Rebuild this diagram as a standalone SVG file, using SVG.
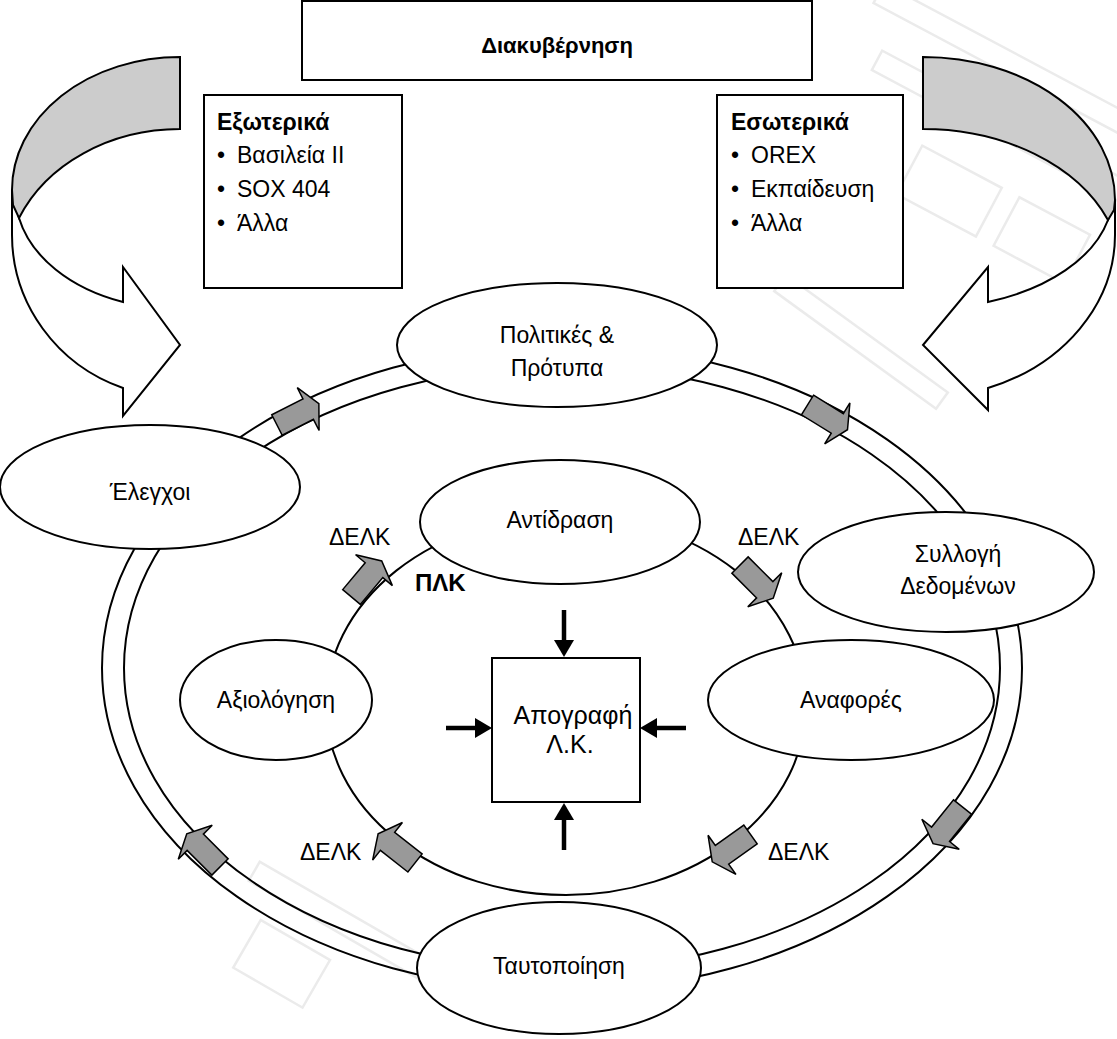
<svg xmlns="http://www.w3.org/2000/svg" width="1117" height="1039" viewBox="0 0 1117 1039">
  <style>
    .ln { fill: none; stroke: #000; stroke-width: 2; }
    .nd { fill: #fff; stroke: #000; stroke-width: 2; }
    .t { font-family: "Liberation Sans", Arial, sans-serif; font-size: 23px; fill: #000; }
    .b { font-weight: bold; }
    .mid { text-anchor: middle; }
    .blk { fill: #999; stroke: #000; stroke-width: 1.5; stroke-linejoin: miter; }
    .cv { fill: #fff; stroke: #000; stroke-width: 2; stroke-linejoin: miter; }
    .cvg { fill: #ccc; stroke: #000; stroke-width: 2; }
    .sh { stroke: #000; stroke-width: 4.5; }
    .wm { fill: none; stroke: #ebebeb; stroke-width: 2.5; }
  </style>
  <defs>
    <!-- block arrow pointing along +x, origin at middle of its tail -->
    <path id="blockArrow" d="M0,-11.5 H35 V-24 L47,0 L35,24 V11.5 H0 Z"/>
    <marker id="head" markerUnits="userSpaceOnUse" markerWidth="18" markerHeight="20" refX="0" refY="10" orient="auto">
      <path d="M0,0 L17,10 L0,20 Z" fill="#000"/>
    </marker>
  </defs>

  <rect width="1117" height="1039" fill="#fff"/>

  <!-- faint background logo -->
  <g id="watermark">
    <g transform="rotate(28 950 200)">
      <rect class="wm" x="790" y="40" width="380" height="22"/>
      <rect class="wm" x="820" y="100" width="320" height="22"/>
      <rect class="wm" x="900" y="165" width="90" height="55"/>
      <rect class="wm" x="1010" y="165" width="80" height="55"/>
    </g>
    <g transform="rotate(36 850 340)">
      <rect class="wm" x="760" y="325" width="200" height="20"/>
    </g>
    <g transform="rotate(30 330 960)">
      <rect class="wm" x="220" y="910" width="230" height="22"/>
      <rect class="wm" x="250" y="960" width="80" height="55"/>
    </g>
  </g>

  <!-- curved arrow, left -->
  <g id="curved-left">
    <path class="cv" d="M12,190 L12,235 A168,163 0 0 0 123,388 L123,416 L180,345 L123,267 L123,302 A163,115 0 0 1 19,218 Z"/>
    <path class="cvg" d="M180,57 A168,133 0 0 0 12,190 L13,205 L19,218 A175,146 0 0 1 180,129 Z"/>
  </g>

  <!-- curved arrow, right -->
  <g id="curved-right">
    <path class="cv" d="M1115,200 L1115,235 A192,163 0 0 1 988,388 L988,410 L923,345 L988,267 L988,302 A187,114 0 0 0 1108,220 Z"/>
    <path class="cvg" d="M923,57 A192,143 0 0 1 1115,200 L1114,210 L1108,220 A200,146 0 0 0 923,129 Z"/>
  </g>

  <!-- connectors: outer ring, inner cycle, block arrows, small arrows -->
  <g id="connectors">
    <ellipse class="ln" cx="562" cy="668" rx="460" ry="323"/>
    <ellipse class="ln" cx="562" cy="668" rx="438" ry="302"/>
    <ellipse class="ln" cx="566" cy="705" rx="240" ry="190"/>

    <use href="#blockArrow" class="blk" transform="translate(277,425) rotate(-27)"/>
    <use href="#blockArrow" class="blk" transform="translate(807.5,405) rotate(31.7)"/>
    <use href="#blockArrow" class="blk" transform="translate(962.5,807) rotate(128.8)"/>
    <use href="#blockArrow" class="blk" transform="translate(220,867) rotate(-135)"/>

    <use href="#blockArrow" class="blk" transform="translate(351.5,597) rotate(-50)"/>
    <use href="#blockArrow" class="blk" transform="translate(740,565) rotate(45)"/>
    <use href="#blockArrow" class="blk" transform="translate(750.5,834.5) rotate(144.5)"/>
    <use href="#blockArrow" class="blk" transform="translate(415,863) rotate(-141.7)"/>

    <line class="sh" x1="564" y1="610" x2="564" y2="640" marker-end="url(#head)"/>
    <line class="sh" x1="564" y1="850" x2="564" y2="820" marker-end="url(#head)"/>
    <line class="sh" x1="446" y1="728" x2="475" y2="728" marker-end="url(#head)"/>
    <line class="sh" x1="686" y1="728" x2="657" y2="728" marker-end="url(#head)"/>
  </g>

  <g id="governance">
    <rect class="nd" x="302" y="1" width="510" height="79"/>
    <text class="t b mid" x="557" y="53" style="font-size:22px">Διακυβέρνηση</text>
  </g>

  <g id="external">
    <rect class="nd" x="204" y="95" width="198" height="193"/>
    <text class="t b" x="217" y="130">Εξωτερικά</text>
    <text class="t" x="217" y="163">•</text><text class="t" x="237" y="163">Βασιλεία ΙΙ</text>
    <text class="t" x="217" y="197">•</text><text class="t" x="237" y="197">SOX 404</text>
    <text class="t" x="217" y="231">•</text><text class="t" x="237" y="231">Άλλα</text>
  </g>

  <g id="internal">
    <rect class="nd" x="717" y="95" width="186" height="193"/>
    <text class="t b" x="731" y="130">Εσωτερικά</text>
    <text class="t" x="731" y="163">•</text><text class="t" x="751" y="163">OREX</text>
    <text class="t" x="731" y="197">•</text><text class="t" x="751" y="197">Εκπαίδευση</text>
    <text class="t" x="731" y="231">•</text><text class="t" x="751" y="231">Άλλα</text>
  </g>

  <g id="policies">
    <ellipse class="nd" cx="557" cy="345" rx="160" ry="62"/>
    <text class="t mid" x="557" y="343">Πολιτικές &amp;</text>
    <text class="t mid" x="557" y="376">Πρότυπα</text>
  </g>

  <g id="controls">
    <ellipse class="nd" cx="150" cy="487" rx="150" ry="62"/>
    <text class="t mid" x="150" y="500">Έλεγχοι</text>
  </g>

  <g id="data-collection">
    <ellipse class="nd" cx="946" cy="572" rx="148" ry="60"/>
    <text class="t mid" x="958" y="562">Συλλογή</text>
    <text class="t mid" x="958" y="594">Δεδομένων</text>
  </g>

  <g id="response">
    <ellipse class="nd" cx="560" cy="522" rx="140" ry="62"/>
    <text class="t mid" x="560" y="528">Αντίδραση</text>
  </g>

  <g id="assessment">
    <ellipse class="nd" cx="276" cy="700" rx="96" ry="60"/>
    <text class="t mid" x="276" y="708">Αξιολόγηση</text>
  </g>

  <g id="reports">
    <ellipse class="nd" cx="851" cy="700" rx="143" ry="60"/>
    <text class="t mid" x="851" y="708">Αναφορές</text>
  </g>

  <g id="identification">
    <ellipse class="nd" cx="559" cy="968" rx="142" ry="66"/>
    <text class="t mid" x="559" y="974">Ταυτοποίηση</text>
  </g>

  <g id="inventory">
    <rect class="nd" x="492" y="658" width="148" height="144"/>
    <text class="t mid" x="573" y="724" style="font-size:25px">Απογραφή</text>
    <text class="t mid" x="570" y="753" style="font-size:25px">Λ.Κ.</text>
  </g>

  <g id="labels">
    <text class="t b" x="415" y="591" style="font-size:24px">ΠΛΚ</text>
    <text class="t" x="329" y="545">ΔΕΛΚ</text>
    <text class="t" x="738" y="545">ΔΕΛΚ</text>
    <text class="t" x="300" y="860">ΔΕΛΚ</text>
    <text class="t" x="768" y="860">ΔΕΛΚ</text>
  </g>
</svg>
